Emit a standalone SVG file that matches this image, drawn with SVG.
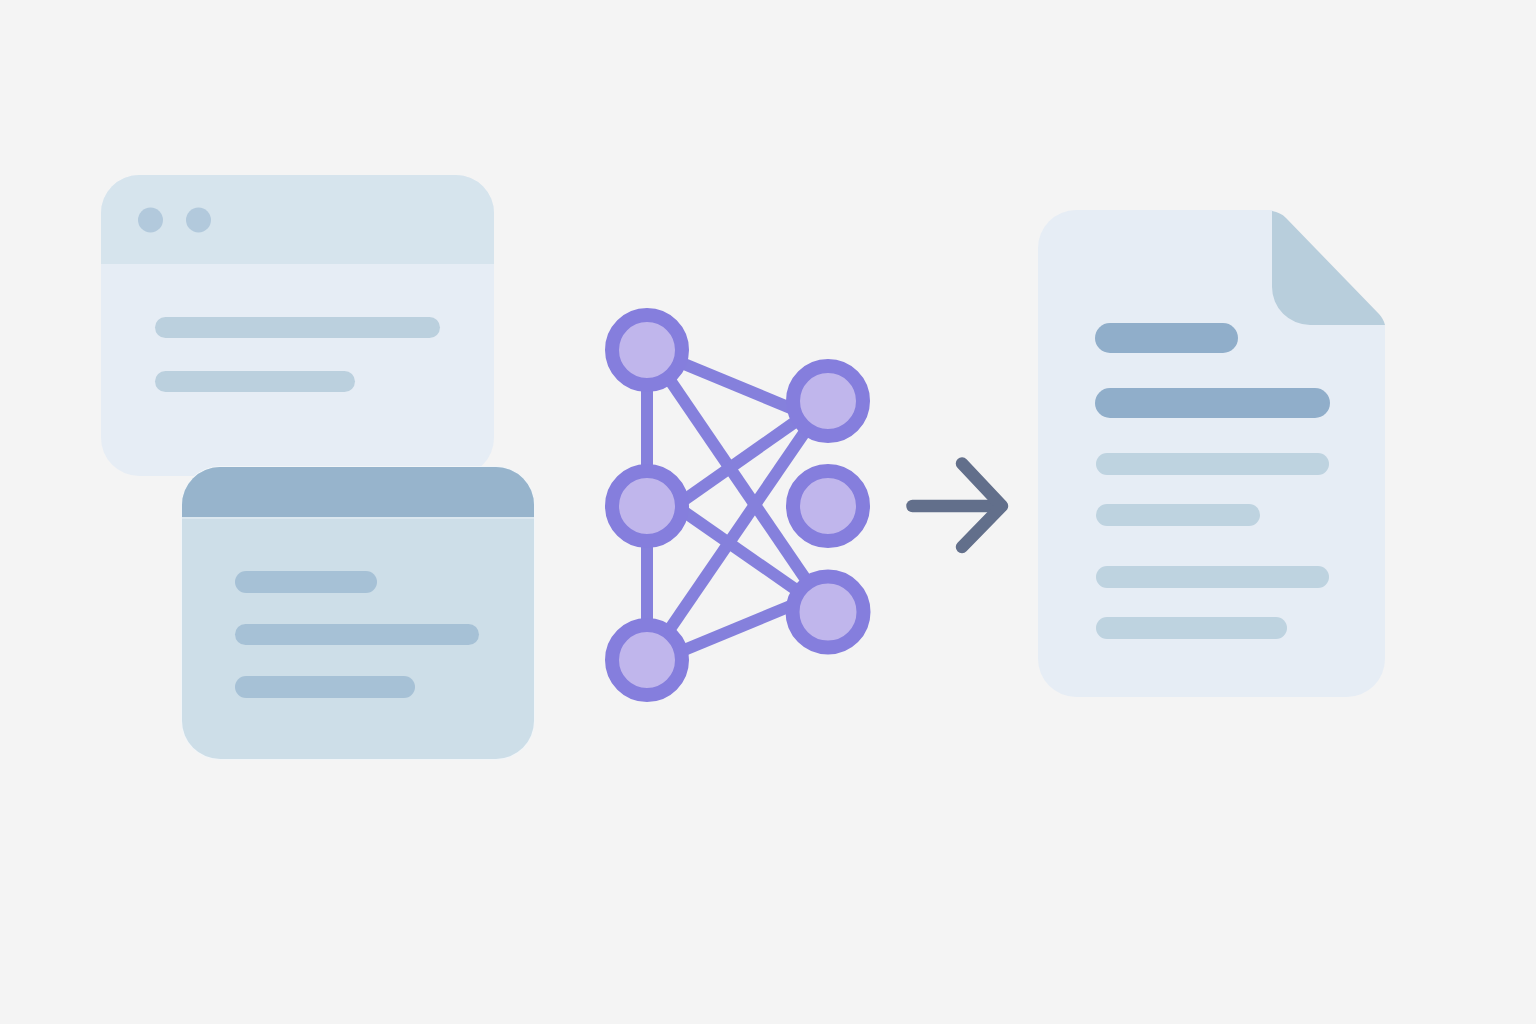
<svg xmlns="http://www.w3.org/2000/svg" width="1536" height="1024" viewBox="0 0 1536 1024">
<style>
.edge{stroke:#8580dc;stroke-width:12;fill:none;stroke-linecap:butt}
.ring{fill:#c0b6ec;stroke:#857edd;stroke-width:14}
.b1{fill:#bbd0de}.b2{fill:#a6c1d6}.b3{fill:#90aeca}.b4{fill:#bed3e0}
</style>
<rect id="background" width="1536" height="1024" fill="#f4f4f4"/>
<g id="window-back">
<rect x="101" y="175" width="393" height="301" rx="38" fill="#e6edf5"/>
<path d="M101 264V213a38 38 0 0 1 38-38H456a38 38 0 0 1 38 38V264Z" fill="#d6e4ed"/>
<circle cx="150.500" cy="220" r="12.500" fill="#b2c9dc"/>
<circle cx="198.500" cy="220" r="12.500" fill="#b2c9dc"/>
<rect class="b1" x="155" y="317" width="285" height="21" rx="10.500"/>
<rect class="b1" x="155" y="371" width="200" height="21" rx="10.500"/>
</g>
<g id="window-front">
<rect x="181" y="466" width="354" height="294" rx="39" fill="#f1f5f8"/>
<rect x="182" y="467" width="352" height="292" rx="38" fill="#cddee8"/>
<path d="M182 517V505a38 38 0 0 1 38-38H496a38 38 0 0 1 38 38V517Z" fill="#97b4cc"/>
<rect x="182" y="517" width="352" height="2" fill="#dbe7ef"/>
<rect class="b2" x="235" y="571" width="142" height="22" rx="11"/>
<rect class="b2" x="235" y="624" width="244" height="21" rx="10.500"/>
<rect class="b2" x="235" y="676" width="180" height="22" rx="11"/>
</g>
<g id="connectors">
<path class="edge" d="M647 350V660" stroke-width="11"/>
<path class="edge" d="M660 354 800 412"/>
<path class="edge" d="M663 370 813 590"/>
<path class="edge" d="M660 517 805 415"/>
<path class="edge" d="M660 495 805 596"/>
<path class="edge" d="M663 639 813 420"/>
<path class="edge" d="M660 660 805 600"/>
</g>
<g id="node-l1"><circle class="ring" cx="647" cy="350" r="35"/></g>
<g id="node-l2"><circle class="ring" cx="647" cy="506" r="35"/></g>
<g id="node-l3"><circle class="ring" cx="647" cy="660" r="35"/></g>
<g id="node-r1"><circle class="ring" cx="828" cy="401" r="35"/></g>
<g id="node-r2"><circle class="ring" cx="828" cy="506" r="35"/></g>
<g id="node-r3"><circle class="ring" cx="828" cy="612" r="35.500"/></g>
<g id="arrow" fill="none" stroke="#626f8b" stroke-width="12.500" stroke-linecap="round" stroke-linejoin="round">
<path d="M912.500 506H1000"/>
<path d="M962 463.500 1002 506 962 547"/>
</g>
<g id="document">
<path d="M1076 210H1272L1385 325V659a38 38 0 0 1-38 38H1076a38 38 0 0 1-38-38V248a38 38 0 0 1 38-38Z" fill="#e6edf5"/>
<path d="M1272 211C1278 212 1282 214 1286 218L1379 314C1382 317 1384 321 1385 325H1310A38 38 0 0 1 1272 287Z" fill="#b8cedc"/>
<rect class="b3" x="1095" y="323" width="143" height="30" rx="15"/>
<rect class="b3" x="1095" y="388" width="235" height="30" rx="15"/>
<rect class="b4" x="1096" y="453" width="233" height="22" rx="11"/>
<rect class="b4" x="1096" y="504" width="164" height="22" rx="11"/>
<rect class="b4" x="1096" y="566" width="233" height="22" rx="11"/>
<rect class="b4" x="1096" y="617" width="191" height="22" rx="11"/>
</g>
</svg>
